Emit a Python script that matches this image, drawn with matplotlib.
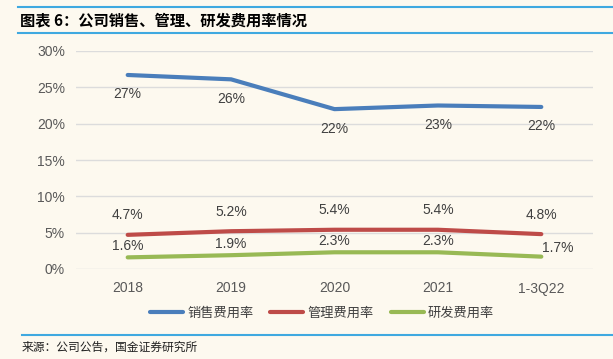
import matplotlib
matplotlib.use("Agg")
import matplotlib.pyplot as plt
from matplotlib.lines import Line2D

categories = ["2018", "2019", "2020", "2021", "1-3Q22"]
sales = [26.7, 26.1, 22.0, 22.5, 22.3]
admin = [4.7, 5.2, 5.4, 5.4, 4.8]
rnd = [1.6, 1.9, 2.3, 2.3, 1.7]
sales_labels = ["27%", "26%", "22%", "23%", "22%"]
admin_labels = ["4.7%", "5.2%", "5.4%", "5.4%", "4.8%"]
rnd_labels = ["1.6%", "1.9%", "2.3%", "2.3%", "1.7%"]
series_names = ["销售费用率", "管理费用率", "研发费用率"]
yticks = [0, 5, 10, 15, 20, 25, 30]

BG = "#FDF9EF"
C_BLUE = "#4A7EBB"
C_RED = "#BE4B48"
C_GREEN = "#98B954"
LINE_BLUE = "#3FA9E0"

plt.rcParams['font.family'] = ['Liberation Sans', 'Noto Sans CJK SC', 'DejaVu Sans']

W, H = 613, 359
fig = plt.figure(figsize=(W / 100, H / 100), dpi=100, facecolor=BG)

ax = fig.add_axes([76 / W, 1 - 269 / H, (593 - 76) / W, (269 - 51) / H], facecolor=BG)
x = list(range(len(categories)))
ax.plot(x, sales, color=C_BLUE, lw=3, solid_capstyle='round')
ax.plot(x, admin, color=C_RED, lw=3, solid_capstyle='round')
ax.plot(x, rnd, color=C_GREEN, lw=3, solid_capstyle='round')

ax.set_xlim(-0.5, 4.5)
ax.set_ylim(0, 30)
ax.set_yticks(yticks)
ax.set_yticklabels([f"{v}%" for v in yticks])
ax.set_xticks(x)
ax.set_xticklabels(categories)
ax.tick_params(length=0, labelsize=10, labelcolor="#595959", pad=8)
ax.tick_params(axis='x', pad=9)
for s in ax.spines.values():
    s.set_visible(False)
ax.grid(axis='y', color="#DCDCDC", lw=1)
ax.set_axisbelow(True)

tc = "#404040"
for i in x:
    ax.annotate(sales_labels[i], (i, sales[i]), xytext=(0, -14), textcoords='offset points',
                ha='center', va='center', fontsize=10, color=tc)
    ax.annotate(admin_labels[i], (i, admin[i]), xytext=(0, 14), textcoords='offset points',
                ha='center', va='center', fontsize=10, color=tc)
    if i < 4:
        ax.annotate(rnd_labels[i], (i, rnd[i]), xytext=(0, 8), textcoords='offset points',
                    ha='center', va='center', fontsize=10, color=tc)
    else:
        ax.annotate(rnd_labels[i], (i, rnd[i]), xytext=(12, 6), textcoords='offset points',
                    ha='center', va='center', fontsize=10, color=tc)

handles = [Line2D([], [], color=c, lw=3, solid_capstyle='round') for c in (C_BLUE, C_RED, C_GREEN)]
fig.legend(handles, series_names, loc='center', bbox_to_anchor=(322 / W, 1 - 313 / H), ncol=3,
           frameon=False, prop={'family': ['Noto Sans CJK SC'], 'size': 9.5},
           handlelength=2.5, columnspacing=1.3, handletextpad=0.3, labelcolor="#404040")

# header / footer rules
fig.add_artist(Line2D([18 / W, 1], [1 - 7 / H, 1 - 7 / H], color=LINE_BLUE, lw=1.5))
fig.add_artist(Line2D([18 / W, 1], [1 - 33 / H, 1 - 33 / H], color=LINE_BLUE, lw=1.5))
fig.add_artist(Line2D([22 / W, 1], [1 - 335 / H, 1 - 335 / H], color=LINE_BLUE, lw=1.5))

fig.text(20 / W, 1 - 20 / H, "图表 6：公司销售、管理、研发费用率情况", fontsize=11, fontweight='bold',
         family=['Noto Sans CJK SC'], va='center', ha='left', color="#000000", style='italic')
fig.text(22 / W, 1 - 347 / H, "来源：公司公告，国金证券研究所", fontsize=8.5,
         family=['Noto Sans CJK SC'], va='center', ha='left', color="#202020")

fig.savefig("out.png", dpi=100, facecolor=BG)
